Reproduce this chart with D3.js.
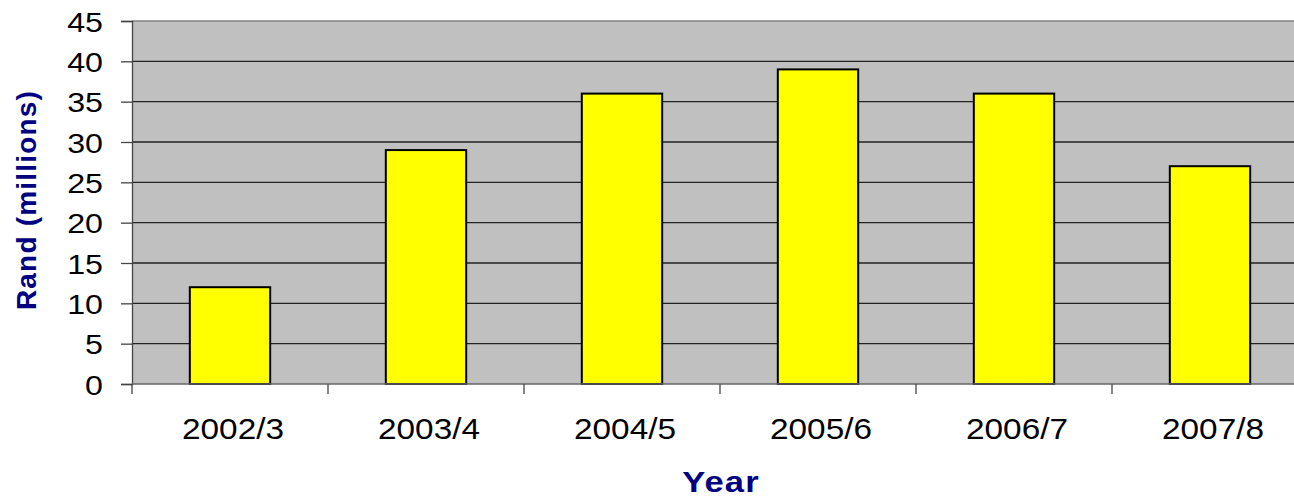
<!DOCTYPE html>
<html><head><meta charset="utf-8">
<script src="https://cdn.jsdelivr.net/npm/d3@7"></script>
<style>body{margin:0;background:#fff;}svg{display:block;font-family:"Liberation Sans",Arial,sans-serif;}</style>
</head><body>
<svg id="c" width="1294" height="497"></svg>
<script>
const categories = ["2002/3","2003/4","2004/5","2005/6","2006/7","2007/8"];
const values = [12, 29, 36, 39, 36, 27];
const yTicks = [0,5,10,15,20,25,30,35,40,45];

const svg = d3.select("#c");
const L = 132, T = 21, B = 384, R = 132 + 6*196;
const SX = 1.15;
const x = d3.scaleBand().domain(categories).range([L, R]).paddingInner(0.59).paddingOuter(0.295);
const y = d3.scaleLinear().domain([0,45]).range([B, T]);

svg.append("rect").attr("x", L).attr("y", T).attr("width", R - L).attr("height", B - T).attr("fill", "#c0c0c0");

// gridlines
svg.append("g").selectAll("line").data(yTicks.filter(d => d > 0 && d < 45)).join("line")
  .attr("x1", L).attr("x2", R).attr("y1", d => y(d)).attr("y2", d => y(d))
  .attr("stroke", "#222").attr("stroke-width", 1.3);
svg.append("line").attr("x1", L).attr("x2", R).attr("y1", T).attr("y2", T).attr("stroke", "#808080").attr("stroke-width", 1.3);

// bars
svg.append("g").selectAll("rect").data(values).join("rect")
  .attr("x", (d,i) => x(categories[i])).attr("width", x.bandwidth())
  .attr("y", d => y(d)).attr("height", d => B - y(d))
  .attr("fill", "#ffff00").attr("stroke", "#000").attr("stroke-width", 2);

// y axis
const ya = svg.append("g").attr("transform", `translate(${L},0)`)
  .call(d3.axisLeft(y).tickValues(yTicks).tickSize(11).tickPadding(18));
ya.attr("font-size", null).attr("font-family", null);
ya.select(".domain").attr("stroke", "#444").attr("stroke-width", 1.3);
ya.selectAll(".tick line").attr("stroke", "#444").attr("stroke-width", 1.3);
ya.selectAll("text").style("font-size", "28px").attr("fill", "#000").attr("dy", "0.36em")
  .attr("x", -29 / SX).attr("transform", `scale(${SX},1)`);

// x axis
const xBounds = d3.scaleLinear().domain([0,6]).range([L, R]);
svg.append("line").attr("x1", L).attr("x2", R).attr("y1", B).attr("y2", B).attr("stroke", "#666").attr("stroke-width", 1.3);
svg.append("g").selectAll("line").data(d3.range(0,6)).join("line")
  .attr("x1", d => xBounds(d)).attr("x2", d => xBounds(d)).attr("y1", B).attr("y2", B + 10)
  .attr("stroke", "#444").attr("stroke-width", 1.3);
svg.append("g").selectAll("text").data(categories).join("text")
  .attr("transform", d => `translate(${x(d) + x.bandwidth()/2 + 3},439) scale(${SX},1)`)
  .attr("text-anchor", "middle").style("font-size", "29px")
  .attr("fill", "#000").text(d => d);

// titles
svg.append("text").attr("transform", `translate(721,492) scale(${SX},1)`).attr("text-anchor", "middle")
  .style("font-size", "30px").attr("font-weight", "bold").attr("fill", "#000080").style("letter-spacing", "1px").text("Year");
svg.append("text").attr("transform", "translate(36,200) rotate(-90)").attr("text-anchor", "middle")
  .style("font-size", "28px").attr("font-weight", "bold").attr("fill", "#000080").style("letter-spacing", "1.2px").text("Rand (millions)");
</script>
</body></html>
